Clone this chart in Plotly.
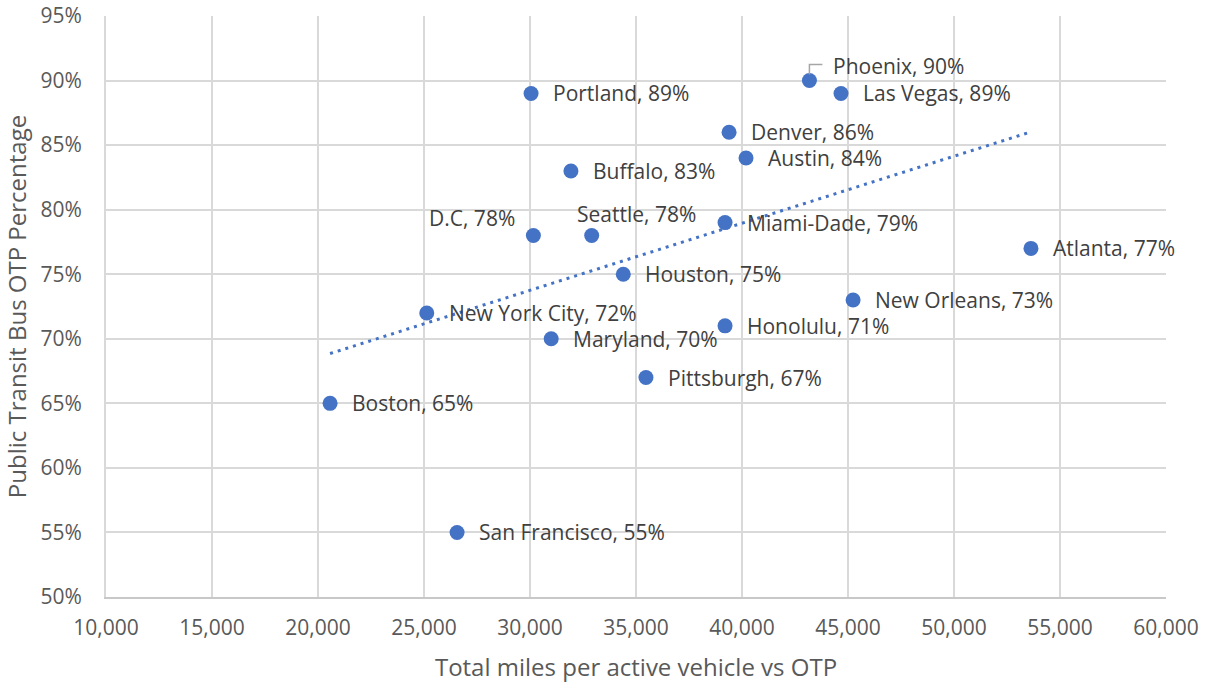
import numpy as np
import plotly.graph_objects as go

# city, miles per active vehicle, on-time performance
cities = ['Boston', 'San Francisco', 'New York City', 'Portland', 'D.C', 'Maryland',
          'Buffalo', 'Seattle', 'Houston', 'Pittsburgh', 'Miami-Dade', 'Honolulu',
          'Denver', 'Austin', 'Phoenix', 'Las Vegas', 'New Orleans', 'Atlanta']
miles = [20570, 26560, 25130, 30050, 30160, 31000,
         31930, 32910, 34400, 35470, 39200, 39200,
         39390, 40190, 43180, 44670, 45240, 53630]
otp = [0.65, 0.55, 0.72, 0.89, 0.78, 0.70,
       0.83, 0.78, 0.75, 0.67, 0.79, 0.71,
       0.86, 0.84, 0.90, 0.89, 0.73, 0.77]

x_ticks = list(range(10000, 60001, 5000))
y_ticks = [0.50, 0.55, 0.60, 0.65, 0.70, 0.75, 0.80, 0.85, 0.90, 0.95]

BLUE = '#4472C4'
GRID = '#d9d9d9'
FONT = 'Open Sans'

# linear trendline like Excel's
slope, intercept = np.polyfit(miles, otp, 1)
trend_x = [min(miles), max(miles)]
trend_y = [slope * v + intercept for v in trend_x]

fig = go.Figure()

fig.add_trace(go.Scatter(
    x=trend_x, y=trend_y, mode='lines',
    line=dict(color=BLUE, width=3, dash='3px,5px'),
    hoverinfo='skip', showlegend=False
))

fig.add_trace(go.Scatter(
    x=miles, y=otp, mode='markers',
    marker=dict(color=BLUE, size=15),
    text=cities, showlegend=False
))

# data labels, mostly to the right of the point
for city, mx, my in zip(cities, miles, otp):
    label = f'{city}, {round(my * 100)}%'
    ann = dict(x=mx, y=my, text=label, showarrow=False,
               xanchor='left', yanchor='middle', xshift=20,
               font=dict(family=FONT, size=21, color='#404040'))
    if city == 'D.C':
        ann.update(xanchor='right', xshift=-16, yshift=17)
    elif city == 'Seattle':
        ann.update(xanchor='center', xshift=45, yshift=21)
    elif city == 'Phoenix':
        ann.update(xshift=22, yshift=15)
        fig.add_shape(type='path', xref='x', yref='y',
                      xsizemode='pixel', ysizemode='pixel',
                      xanchor=mx, yanchor=my,
                      path='M 0,6 L 0,16 L 13,16',
                      line=dict(color='#a6a6a6', width=1.5))
    fig.add_annotation(**ann)

fig.update_xaxes(
    range=[10000, 60000], tickvals=x_ticks, tickformat=',',
    showgrid=True, gridcolor=GRID, gridwidth=2,
    showline=True, linecolor='#c8c8c8', linewidth=2,
    zeroline=False, ticks='', ticklabelstandoff=11, automargin=False,
    tickfont=dict(family=FONT, size=21, color='#595959'),
    title=dict(text='Total miles per active vehicle vs OTP', standoff=23,
               font=dict(family=FONT, size=24, color='#595959'))
)
fig.update_yaxes(
    range=[0.5, 0.95], tickvals=y_ticks, tickformat='.0%',
    showgrid=True, gridcolor=GRID, gridwidth=2,
    showline=True, linecolor=GRID, linewidth=2,
    zeroline=False, ticks='', ticklabelstandoff=18, automargin=False,
    tickfont=dict(family=FONT, size=21, color='#595959'),
    title=dict(text='Public Transit Bus OTP Percentage', standoff=22,
               font=dict(family=FONT, size=24, color='#595959'))
)

fig.update_layout(
    width=1210, height=683,
    margin=dict(l=106, r=44, t=16, b=86),
    plot_bgcolor='white', paper_bgcolor='white',
    font=dict(family=FONT),
    showlegend=False
)

# drop the browser's default body margin so the figure sits at the page corner
fig.write_html('out.html', config={'displayModeBar': False},
               post_script="document.body.style.margin='0';")
